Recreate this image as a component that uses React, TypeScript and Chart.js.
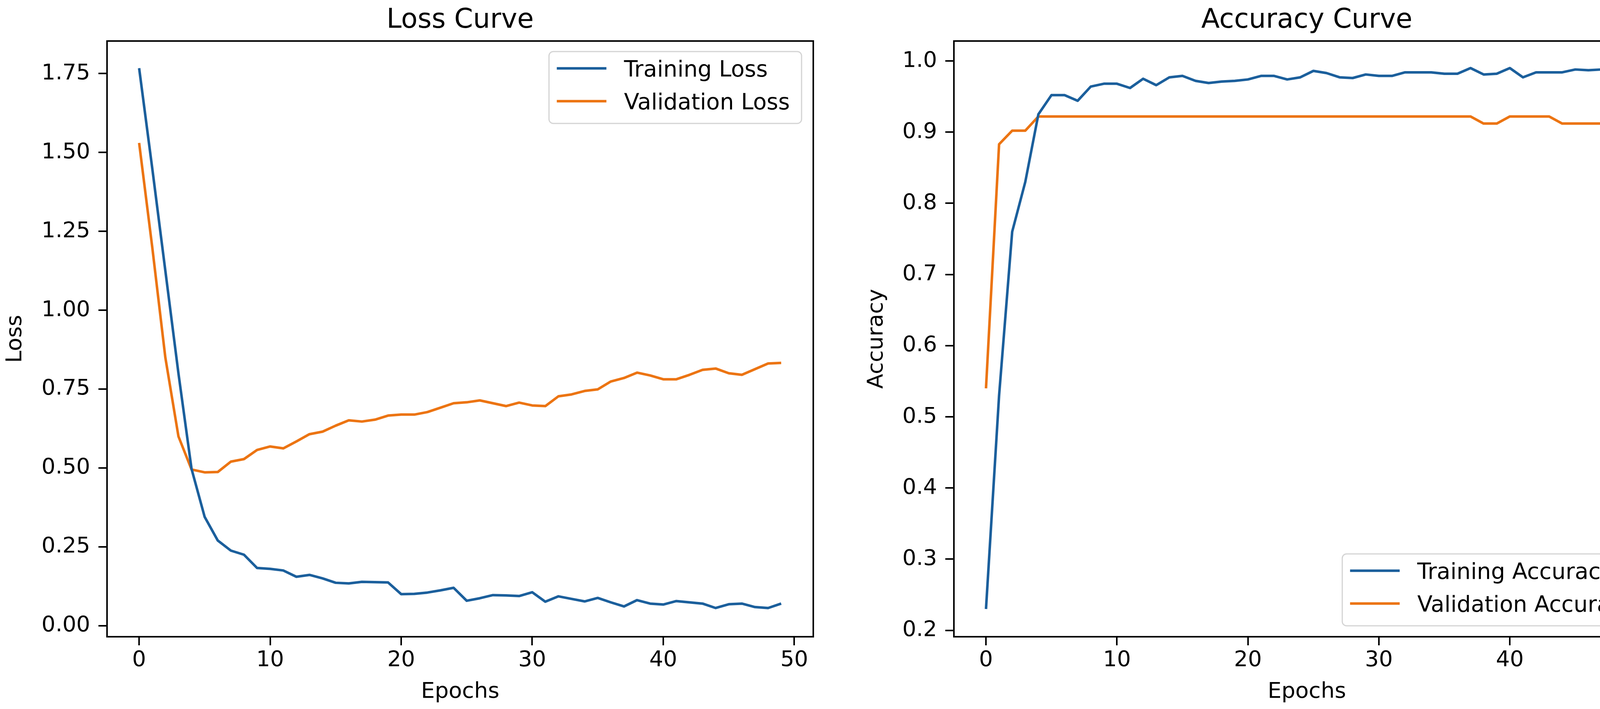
import React, { useEffect, useRef } from 'react';
import { Chart, registerables } from 'chart.js';

Chart.register(...registerables);

// ---------------- data ----------------
const epochs = [
  0, 1, 2, 3, 4, 5, 6, 7, 8, 9, 10, 11, 12, 13, 14, 15, 16, 17, 18, 19, 20, 21, 22, 23, 24,
  25, 26, 27, 28, 29, 30, 31, 32, 33, 34, 35, 36, 37, 38, 39, 40, 41, 42, 43, 44, 45, 46, 47, 48, 49,
];

const trainLoss = [
  1.767, 1.45, 1.125, 0.8, 0.497, 0.345, 0.27, 0.238, 0.225, 0.183,
  0.18, 0.175, 0.155, 0.161, 0.15, 0.136, 0.134, 0.139, 0.138, 0.137,
  0.1, 0.101, 0.105, 0.112, 0.12, 0.079, 0.087, 0.097, 0.096, 0.094,
  0.106, 0.076, 0.093, 0.085, 0.077, 0.088, 0.074, 0.061, 0.081, 0.07,
  0.067, 0.078, 0.074, 0.07, 0.056, 0.068, 0.07, 0.059, 0.056, 0.07,
];

const valLoss = [
  1.53, 1.2, 0.85, 0.6, 0.495, 0.486, 0.487, 0.52, 0.528, 0.557,
  0.568, 0.562, 0.584, 0.607, 0.615, 0.634, 0.651, 0.647, 0.653, 0.666,
  0.669, 0.669, 0.677, 0.691, 0.705, 0.708, 0.714, 0.705, 0.696, 0.707,
  0.698, 0.696, 0.727, 0.733, 0.744, 0.749, 0.774, 0.785, 0.802, 0.793,
  0.781, 0.781, 0.795, 0.811, 0.815, 0.8, 0.795, 0.813, 0.831, 0.833,
];

const trainAcc = [
  0.23, 0.53, 0.76, 0.83, 0.925, 0.952, 0.952, 0.944, 0.964, 0.968,
  0.968, 0.962, 0.975, 0.966, 0.977, 0.979, 0.972, 0.969, 0.971, 0.972,
  0.974, 0.979, 0.979, 0.974, 0.977, 0.986, 0.983, 0.977, 0.976, 0.981,
  0.979, 0.979, 0.984, 0.984, 0.984, 0.982, 0.982, 0.99, 0.981, 0.982,
  0.99, 0.977, 0.984, 0.984, 0.984, 0.988, 0.987, 0.988, 0.985, 0.987,
];

const valAcc = [
  0.54, 0.883, 0.902, 0.902, 0.922, 0.922, 0.922, 0.922, 0.922, 0.922,
  0.922, 0.922, 0.922, 0.922, 0.922, 0.922, 0.922, 0.922, 0.922, 0.922,
  0.922, 0.922, 0.922, 0.922, 0.922, 0.922, 0.922, 0.922, 0.922, 0.922,
  0.922, 0.922, 0.922, 0.922, 0.922, 0.922, 0.922, 0.922, 0.912, 0.912,
  0.922, 0.922, 0.922, 0.922, 0.912, 0.912, 0.912, 0.912, 0.912, 0.922,
];

const epochTicks = [0, 10, 20, 30, 40, 50];
const lossTicks = [0, 0.25, 0.5, 0.75, 1.0, 1.25, 1.5, 1.75];
const accTicks = [0.2, 0.3, 0.4, 0.5, 0.6, 0.7, 0.8, 0.9, 1.0];

// ---------------- styles ----------------
const PAGE_W = 4269;
const PAGE_H = 1815;
const FONT = '"DejaVu Sans", sans-serif';
const BLUE = '#1b5f9c';
const ORANGE = '#ec7412';
const TEXT_SIZE = 56;
const LEGEND_SIZE = 57;
const TITLE_SIZE = 69;

const mplDecor = {
  id: 'mplDecor',
  afterDatasetsDraw(chart: any, _args: any, opts: any) {
    const { ctx, chartArea } = chart;
    const { left, top, right, bottom } = chartArea;
    ctx.save();
    // spines
    ctx.lineWidth = 4;
    ctx.strokeStyle = '#000';
    ctx.strokeRect(left, top, right - left, bottom - top);
    // title
    ctx.fillStyle = '#000';
    ctx.font = `${TITLE_SIZE}px ${FONT}`;
    ctx.textAlign = 'center';
    ctx.textBaseline = 'alphabetic';
    ctx.fillText(opts.title, (left + right) / 2, top - 34);
    // legend
    ctx.font = `${LEGEND_SIZE}px ${FONT}`;
    const items = chart.data.datasets.map((d: any) => ({ label: d.label, color: d.borderColor }));
    const maxW = Math.max(...items.map((i: any) => ctx.measureText(i.label).width));
    const padL = 20, handle = 127, gap = 45, padR = 30, rowH = 84, padT = 43, boxH = 184;
    const boxW = padL + handle + gap + maxW + padR;
    const bx = right - opts.insetX - boxW;
    const by = opts.loc === 'upper right' ? top + opts.insetY : bottom - opts.insetY - boxH;
    const r = 11;
    ctx.beginPath();
    ctx.moveTo(bx + r, by);
    ctx.lineTo(bx + boxW - r, by);
    ctx.arcTo(bx + boxW, by, bx + boxW, by + r, r);
    ctx.lineTo(bx + boxW, by + boxH - r);
    ctx.arcTo(bx + boxW, by + boxH, bx + boxW - r, by + boxH, r);
    ctx.lineTo(bx + r, by + boxH);
    ctx.arcTo(bx, by + boxH, bx, by + boxH - r, r);
    ctx.lineTo(bx, by + r);
    ctx.arcTo(bx, by, bx + r, by, r);
    ctx.closePath();
    ctx.fillStyle = 'rgba(255,255,255,0.8)';
    ctx.fill();
    ctx.lineWidth = 3;
    ctx.strokeStyle = '#d4d4d4';
    ctx.stroke();
    items.forEach((it: any, i: number) => {
      const cy = by + padT + i * rowH;
      ctx.strokeStyle = it.color;
      ctx.lineWidth = 6.5;
      ctx.lineCap = 'butt';
      ctx.beginPath();
      ctx.moveTo(bx + padL, cy);
      ctx.lineTo(bx + padL + handle, cy);
      ctx.stroke();
      ctx.fillStyle = '#000';
      ctx.textAlign = 'left';
      ctx.textBaseline = 'alphabetic';
      ctx.fillText(it.label, bx + padL + handle + gap, cy + 21);
    });
    ctx.restore();
  },
};

type Params = {
  title: string;
  yLabel: string;
  labels: [string, string];
  series: [number[], number[]];
  yTicks: number[];
  yMin: number;
  yMax: number;
  decimals: number;
  yAxisWidth: number;
  rightPad: number;
  yTitlePad: number;
  loc: string;
  insetX: number;
  insetY: number;
};

function buildConfig(p: Params): any {
  const tickFont = { size: TEXT_SIZE, family: FONT };
  const labelFont = { size: TEXT_SIZE, family: FONT, lineHeight: 1 };
  const grid = {
    display: true,
    drawOnChartArea: false,
    drawTicks: true,
    tickLength: 22,
    lineWidth: 4,
    color: '#000',
  };
  const colors = [BLUE, ORANGE];
  return {
    type: 'line',
    data: {
      datasets: p.series.map((s, k) => ({
        label: p.labels[k],
        data: epochs.map((e, i) => ({ x: e, y: s[i] })),
        borderColor: colors[k],
        backgroundColor: colors[k],
        borderWidth: 6.5,
        pointRadius: 0,
        pointHoverRadius: 0,
        tension: 0,
        fill: false,
        borderJoinStyle: 'round',
        borderCapStyle: 'butt',
      })),
    },
    options: {
      animation: false,
      responsive: false,
      devicePixelRatio: 1,
      events: [],
      layout: { padding: { left: 0, top: 105, right: p.rightPad, bottom: 0 } },
      plugins: {
        legend: { display: false },
        title: { display: false },
        tooltip: { enabled: false },
        mplDecor: { title: p.title, loc: p.loc, insetX: p.insetX, insetY: p.insetY },
      },
      scales: {
        x: {
          type: 'linear',
          min: -2.45,
          max: 51.45,
          grid,
          border: { display: false },
          afterBuildTicks: (scale: any) => {
            scale.ticks = epochTicks.map((v) => ({ value: v }));
          },
          afterFit: (scale: any) => {
            scale.height = 185;
          },
          ticks: {
            font: tickFont,
            color: '#000',
            padding: 5,
            maxRotation: 0,
            autoSkip: false,
            callback: (v: any) => String(v),
          },
          title: {
            display: true,
            text: 'Epochs',
            font: labelFont,
            color: '#000',
            padding: { top: 0, bottom: 16 },
          },
        },
        y: {
          type: 'linear',
          min: p.yMin,
          max: p.yMax,
          grid,
          border: { display: false },
          afterBuildTicks: (scale: any) => {
            scale.ticks = p.yTicks.map((v) => ({ value: v }));
          },
          afterFit: (scale: any) => {
            scale.width = p.yAxisWidth;
          },
          ticks: {
            font: tickFont,
            color: '#000',
            padding: 21,
            autoSkip: false,
            callback: (v: any) => Number(v).toFixed(p.decimals),
          },
          title: {
            display: true,
            text: p.yLabel,
            font: labelFont,
            color: '#000',
            padding: { top: p.yTitlePad, bottom: 0 },
          },
        },
      },
    },
    plugins: [mplDecor],
  };
}

function ChartCanvas({ params, left, width }: { params: Params; left: number; width: number }) {
  const ref = useRef<HTMLCanvasElement>(null);
  useEffect(() => {
    if (!ref.current) return;
    const chart = new Chart(ref.current, buildConfig(params));
    return () => chart.destroy();
  }, []);
  return (
    <canvas
      ref={ref}
      width={width}
      height={PAGE_H}
      style={{ position: 'absolute', left, top: 0, width, height: PAGE_H, display: 'block' }}
    />
  );
}

const lossParams: Params = {
  title: 'Loss Curve',
  yLabel: 'Loss',
  labels: ['Training Loss', 'Validation Loss'],
  series: [trainLoss, valLoss],
  yTicks: lossTicks,
  yMin: -0.035,
  yMax: 1.853,
  decimals: 2,
  yAxisWidth: 274,
  rightPad: 58,
  yTitlePad: 11,
  loc: 'upper right',
  insetX: 30,
  insetY: 27,
};

const accParams: Params = {
  title: 'Accuracy Curve',
  yLabel: 'Accuracy',
  labels: ['Training Accuracy', 'Validation Accuracy'],
  series: [trainAcc, valAcc],
  yTicks: accTicks,
  yMin: 0.191,
  yMax: 1.028,
  decimals: 1,
  yAxisWidth: 302,
  rightPad: 20,
  yTitlePad: 76,
  loc: 'lower right',
  insetX: 31,
  insetY: 28,
};

export default function App() {
  useEffect(() => {
    document.body.style.margin = '0';
    document.body.style.background = '#fff';
  }, []);
  return (
    <div style={{ position: 'relative', width: PAGE_W, height: PAGE_H, background: '#fff', overflow: 'hidden' }}>
      <ChartCanvas params={lossParams} left={0} width={2140} />
      <ChartCanvas params={accParams} left={2140} width={2129} />
    </div>
  );
}
